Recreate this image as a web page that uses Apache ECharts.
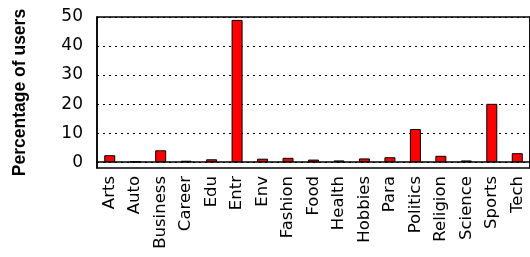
<!DOCTYPE html>
<html>
<head>
<meta charset="utf-8">
<script src="https://cdn.jsdelivr.net/npm/echarts@6/dist/echarts.min.js"></script>
<style>
  html, body { margin: 0; padding: 0; background: #fff; }
  #chart { width: 530px; height: 257px; }
</style>
</head>
<body>
<div id="chart"></div>
<script>
"use strict";
// categories and % of users per category
var categories = ["Arts", "Auto", "Business", "Career", "Edu", "Entr", "Env", "Fashion",
  "Food", "Health", "Hobbies", "Para", "Politics", "Religion", "Science", "Sports", "Tech"];
var percentUsers = [2.4, 0.2, 4.1, 0.5, 1.0, 49.0, 1.2, 1.5,
  0.9, 0.6, 1.3, 1.7, 11.4, 2.2, 0.6, 20.1, 3.1];
var yTicks = [0, 10, 20, 30, 40, 50];

var labelFont = "DejaVu Sans";
var titleFont = "Liberation Sans";
var chart = echarts.init(document.getElementById("chart"));

chart.setOption({
  animation: false,
  grid: {
    left: 97, right: 0, top: 17, bottom: 89,
    show: true, borderColor: "#000", borderWidth: 1.5
  },
  xAxis: {
    type: "category",
    data: categories,
    boundaryGap: true,
    axisLine: {lineStyle: {color: "#000", width: 1.5}},
    axisTick: {inside: true, alignWithLabel: true, length: 6, lineStyle: {color: "#000", width: 1.2}},
    axisLabel: {rotate: 90, margin: 8, color: "#000", fontFamily: labelFont, fontSize: 16.5, interval: 0},
    splitLine: {show: false}
  },
  yAxis: [{
    type: "value",
    min: -2, max: 50,
    name: "Percentage of users",
    nameLocation: "middle",
    nameGap: 68,
    nameTextStyle: {color: "#000", fontFamily: titleFont, fontSize: 17.5, fontWeight: "bold"},
    axisLine: {show: true, lineStyle: {color: "#000", width: 1.5}},
    axisTick: {inside: true, length: 10, customValues: yTicks, lineStyle: {color: "#000", width: 1.2}},
    axisLabel: {customValues: yTicks, margin: 14, color: "#000", fontFamily: labelFont, fontSize: 17},
    splitLine: {show: true, lineStyle: {color: "#000", type: [2, 4], width: 1}}
  }, {
    type: "value",
    position: "right",
    min: -2, max: 50,
    axisLine: {show: true, lineStyle: {color: "#000", width: 1.5}},
    axisTick: {inside: true, length: 8, customValues: yTicks, lineStyle: {color: "#000", width: 1.2}},
    axisLabel: {show: false},
    splitLine: {show: false}
  }],
  series: [{
    type: "bar",
    data: percentUsers,
    barWidth: 11,
    itemStyle: {color: "#ff0000", borderColor: "#000", borderWidth: 1}
  }]
});
</script>
</body>
</html>
